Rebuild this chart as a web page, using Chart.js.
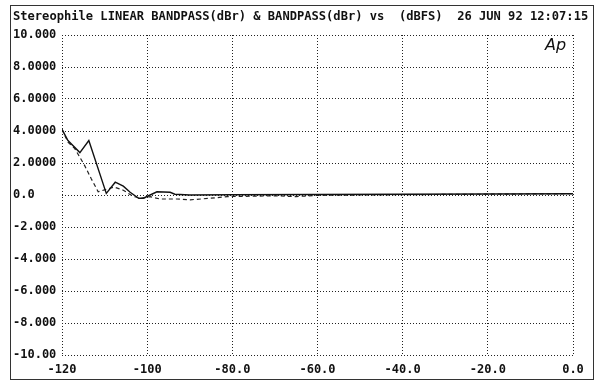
<!DOCTYPE html>
<html>
<head>
<meta charset="utf-8">
<script src="https://cdn.jsdelivr.net/npm/chart.js@4/dist/chart.umd.min.js"></script>
<style>
  body { margin: 0; background: #fff; }
  #wrap { width: 600px; height: 389px; }
</style>
</head>
<body>
<div id="wrap"><canvas id="myChart" width="600" height="389"></canvas></div>
<script>
// input level (dBFS) and deviation (dBr)
const solidLevels = [-120, -118.6, -115.8, -113.7, -109.6, -107.5, -105.6, -104, -102, -100.9, -99.3, -97.7, -94.6, -93.5, -90, -80, -60, -40, -20, 0];
const solidValues = [4.1, 3.4, 2.65, 3.4, 0.1, 0.8, 0.55, 0.17, -0.2, -0.2, 0.0, 0.2, 0.17, 0.05, 0.0, 0.02, 0.03, 0.05, 0.06, 0.08];

const dashedLevels = [-120, -118.6, -117, -114.7, -113.1, -111.5, -107.8, -105.6, -103.2, -101.2, -99.3, -97, -93, -89.9, -85, -81.2, -70, -65, -60, -40, -20, 0];
const dashedValues = [4.1, 3.3, 2.9, 1.85, 1.0, 0.2, 0.5, 0.3, -0.1, -0.2, -0.1, -0.25, -0.25, -0.3, -0.2, -0.1, -0.05, -0.1, -0.02, 0.02, 0.05, 0.08];

const xTickLabels = ['-120', '-100', '-80.0', '-60.0', '-40.0', '-20.0', '0.0'];
const yTickLabels = ['-10.00', '-8.000', '-6.000', '-4.000', '-2.000', '0.0', '2.0000', '4.0000', '6.0000', '8.0000', '10.000'];

const titleText = 'Stereophile LINEAR BANDPASS(dBr) & BANDPASS(dBr) vs  (dBFS)  26 JUN 92 12:07:15';
const monoFont = 'DejaVu Sans Mono';

function toPoints(xs, ys) {
    return xs.map((x, i) => ({ x: x, y: ys[i] }));
}

// outer frame, title and the little "Ap" mark
const framePlugin = {
    id: 'frame',
    beforeDraw(chart) {
        const ctx = chart.ctx;
        ctx.save();
        ctx.fillStyle = '#fff';
        ctx.fillRect(0, 0, chart.width, chart.height);
        ctx.restore();
    },
    afterDraw(chart) {
        const ctx = chart.ctx;
        ctx.save();
        ctx.strokeStyle = '#333';
        ctx.lineWidth = 1;
        ctx.strokeRect(10.5, 5.5, 583, 374);

        ctx.fillStyle = '#111';
        ctx.font = 'bold 12.1px "' + monoFont + '"';
        ctx.textBaseline = 'middle';
        ctx.textAlign = 'left';
        ctx.fillText(titleText, 13, 17);

        ctx.font = 'italic 300 16px "DejaVu Sans"';
        ctx.fillText('Ap', 545, 46);
        ctx.restore();
    }
};

const ctx = document.getElementById('myChart').getContext('2d');

new Chart(ctx, {
    type: 'line',
    data: {
        datasets: [{
            label: 'LINEAR BANDPASS',
            data: toPoints(solidLevels, solidValues),
            borderColor: '#111',
            borderWidth: 1.4,
            pointRadius: 0,
            tension: 0
        }, {
            label: 'BANDPASS',
            data: toPoints(dashedLevels, dashedValues),
            borderColor: '#222',
            borderWidth: 1.2,
            borderDash: [4, 3],
            pointRadius: 0,
            tension: 0
        }]
    },
    options: {
        responsive: false,
        animation: false,
        layout: { padding: { left: 13, right: 27, top: 35, bottom: 0 } },
        plugins: {
            legend: { display: false },
            tooltip: { enabled: false }
        },
        scales: {
            x: {
                type: 'linear',
                min: -120,
                max: 0,
                afterFit: scale => { scale.height = 34; },
                ticks: {
                    stepSize: 20,
                    padding: 8,
                    color: '#111',
                    maxRotation: 0,
                    font: { family: monoFont, size: 12, weight: 'bold' },
                    callback: value => xTickLabels[Math.round((value + 120) / 20)]
                },
                grid: { color: '#222', lineWidth: 1, drawTicks: false },
                border: { display: false, dash: [1, 2] }
            },
            y: {
                min: -10,
                max: 10,
                afterFit: scale => { scale.width = 49; },
                ticks: {
                    stepSize: 2,
                    padding: 0,
                    crossAlign: 'far',
                    color: '#111',
                    font: { family: monoFont, size: 12, weight: 'bold' },
                    callback: value => yTickLabels[Math.round((value + 10) / 2)]
                },
                grid: { color: '#222', lineWidth: 1, drawTicks: false },
                border: { display: false, dash: [1, 2] }
            }
        }
    },
    plugins: [framePlugin]
});
</script>
</body>
</html>
